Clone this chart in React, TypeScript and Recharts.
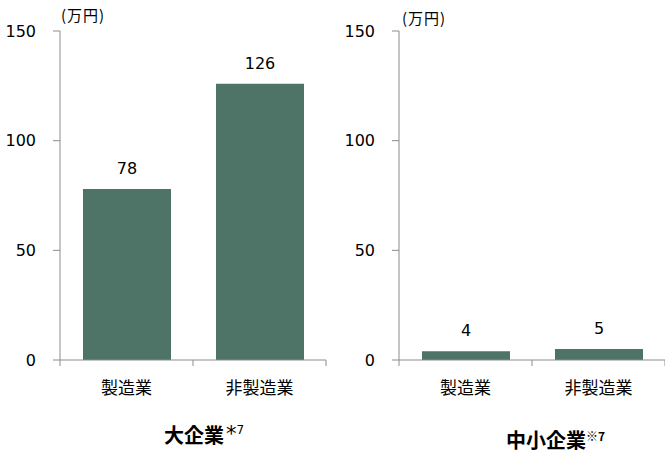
import { BarChart, Bar, XAxis, YAxis, LabelList } from 'recharts';

const categories = ['製造業', '非製造業'];
const largeValues = [78, 126];
const smallValues = [4, 5];
const yTicks = [0, 50, 100, 150];
const unitLabel = '(万円)';

const BAR_COLOR = '#4E7367';
const AXIS_COLOR = '#8C8C8C';
const NUM_FONT = '"DejaVu Sans", Verdana, sans-serif';
const CJK_FONT = '"Noto Sans CJK JP", "Noto Sans", sans-serif';

const PLOT_W = 266;
const BAND = PLOT_W / categories.length;

const CategoryTick = (props: any) => {
  const { x, y, payload, index } = props;
  const axisY = y - 8;
  const half = BAND / 2;
  return (
    <g>
      <line x1={x - half} x2={x - half} y1={axisY} y2={axisY + 6} stroke={AXIS_COLOR} />
      {index === categories.length - 1 && (
        <line x1={x + half} x2={x + half} y1={axisY} y2={axisY + 6} stroke={AXIS_COLOR} />
      )}
      <text x={x} y={y + 26} textAnchor="middle" fontSize={17} fontFamily={CJK_FONT} fill="#000">
        {payload.value}
      </text>
    </g>
  );
};

function Panel({ values, yAxisWidth, width, rightMargin }: { values: number[]; yAxisWidth: number; width: number; rightMargin: number }) {
  const data = categories.map((name, i) => ({ name, value: values[i] }));
  return (
    <BarChart
      width={width}
      height={466}
      data={data}
      margin={{ top: 31, right: rightMargin, left: 0, bottom: 66 }}
    >
      <XAxis
        dataKey="name"
        height={40}
        tickSize={6}
        tickMargin={2}
        tickLine={false}
        axisLine={{ stroke: AXIS_COLOR }}
        tick={<CategoryTick />}
        interval={0}
      />
      <YAxis
        width={yAxisWidth}
        domain={[0, 150]}
        ticks={yTicks}
        tickSize={7}
        tickMargin={17}
        axisLine={{ stroke: AXIS_COLOR }}
        tickLine={{ stroke: AXIS_COLOR }}
        tick={{ fill: '#000', fontSize: 16, fontFamily: NUM_FONT }}
      />
      <Bar dataKey="value" fill={BAR_COLOR} barSize={88} isAnimationActive={false}>
        <LabelList dataKey="value" position="top" offset={15} fill="#000" fontSize={16} fontFamily={NUM_FONT} />
      </Bar>
    </BarChart>
  );
}

export default function App() {
  return (
    <div style={{ position: 'absolute', left: 0, top: 0, width: 665, height: 466, background: '#fff' }}>
      <div style={{ position: 'absolute', left: 0, top: 0 }}>
        <Panel values={largeValues} yAxisWidth={60} width={332} rightMargin={6} />
      </div>
      <div style={{ position: 'absolute', left: 332, top: 0 }}>
        <Panel values={smallValues} yAxisWidth={67} width={333} rightMargin={0} />
      </div>
      <div style={{ position: 'absolute', left: 61, top: 6, fontSize: 15, letterSpacing: 1, fontFamily: CJK_FONT, lineHeight: '18px' }}>
        {unitLabel}
      </div>
      <div style={{ position: 'absolute', left: 402, top: 9, fontSize: 15, letterSpacing: 1, fontFamily: CJK_FONT, lineHeight: '18px' }}>
        {unitLabel}
      </div>
      <div style={{ position: 'absolute', left: 164, top: 423, fontSize: 20, fontWeight: 'bold', fontFamily: CJK_FONT, lineHeight: '24px', whiteSpace: 'nowrap' }}>
        大企業
        <span style={{ fontSize: 21, fontWeight: 'normal', fontFamily: NUM_FONT, marginLeft: 2, verticalAlign: 'top', lineHeight: '22px' }}>*</span>
        <span style={{ fontSize: 12, fontWeight: 'normal', verticalAlign: 'top', fontFamily: NUM_FONT, lineHeight: '14px' }}>7</span>
      </div>
      <div style={{ position: 'absolute', left: 506, top: 428, fontSize: 20, fontWeight: 'bold', fontFamily: CJK_FONT, lineHeight: '24px', whiteSpace: 'nowrap' }}>
        中小企業
        <span style={{ fontSize: 12, verticalAlign: 'top', lineHeight: '16px' }}>※7</span>
      </div>
    </div>
  );
}
